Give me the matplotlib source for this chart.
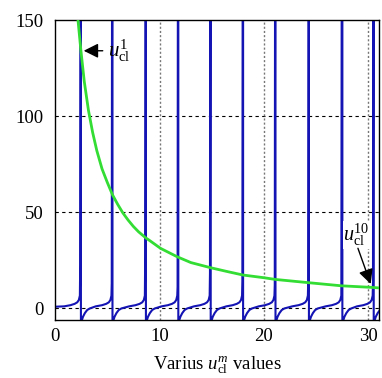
import matplotlib
matplotlib.use('Agg')
import matplotlib.pyplot as plt

plt.rcParams['font.family'] = ['Liberation Serif', 'DejaVu Serif']
plt.rcParams['mathtext.fontset'] = 'custom'
plt.rcParams['mathtext.it'] = 'Liberation Serif:italic'
plt.rcParams['mathtext.rm'] = 'Liberation Serif'

# blue branches: pole locations and how high the steep part climbs before each pole
poles = [2.48, 5.5, 8.7, 11.8, 14.9, 18.0, 21.1, 24.3, 27.5, 30.5]
spike_tops = [22, 13, 27, 11, 18, 14, 12, 14, 143, 14]

# branch shape just after a pole (offset after pole, value)
rise_dx = [0.0, 0.08, 0.2, 0.38, 0.6, 0.85]
rise_y = [-150, -6.5, -4.5, -2.6, -1.0, -0.2]

# branch shape approaching the next pole (offset before pole, value)
climb_dx = [1.6, 1.0, 0.6, 0.35, 0.2, 0.1]
climb_y = [0.9, 1.5, 2.2, 3.0, 4.2, 6.5]

start_x = [0.0, 0.6]
start_y = [0.7, 0.8]

# green curve
green_x = [2.2, 2.48, 2.8, 3.2, 3.6, 4.0, 4.5, 5.0, 5.5, 6.0, 6.5, 7.0, 7.5, 8.0,
           8.7, 9.05, 10.1, 11.7, 13.0, 14.9, 16.5, 18.0, 20.0, 21.1, 24.3, 27.4, 30.2, 31.0]
green_y = [150, 134, 118, 103, 91.5, 82, 72.5, 65.5, 59, 54, 49.5, 45.8, 42.5, 39.7,
           36.5, 35.2, 31.1, 26.7, 23.7, 21.0, 19.0, 17.2, 15.8, 14.9, 13.2, 11.6, 10.8, 10.5]

xticks = [0, 10, 20, 30]
yticks = [0, 50, 100, 150]

# assemble the blue curve branch by branch
bx, by = list(start_x), list(start_y)
prev = None
for p, top in zip(poles, spike_tops):
    if prev is not None:
        bx += [prev + d for d in rise_dx]
        by += rise_y
    bx += [p - d for d in climb_dx]
    by += climb_y
    bx += [p - 0.07, p]
    by += [top, 400]
    prev = p
bx += [prev + d for d in rise_dx]
by += rise_y

fig = plt.figure(figsize=(3.82, 3.78), dpi=100)
ax = fig.add_axes([0.144, 0.153, 0.848, 0.794])

for y in yticks[:-1]:
    ax.axhline(y, color='black', ls=(0, (3, 3)), lw=0.8, zorder=1)
for x in xticks[1:]:
    ax.axvline(x, color='#777777', ls=(0, (1.5, 1.5)), lw=1.0, zorder=1)

ax.plot(bx, by, color='#1414b4', lw=1.5, zorder=2)
ax.plot(green_x, green_y, color='#33dd33', lw=2.0, zorder=3)

ax.set_xlim(0, 31)
ax.set_ylim(-6.3, 150)
ax.set_xticks(xticks)
ax.set_yticks(yticks)
ax.tick_params(axis='both', length=0, labelsize=13.5)
ax.tick_params(axis='y', pad=8)
ax.tick_params(axis='x', pad=6)
for s in ax.spines.values():
    s.set_linewidth(1.0)

ax.set_xlabel(r'Varius $u_{\rm cl}^{m}$ values', fontsize=13.5, labelpad=6)

arrow = dict(arrowstyle='-|>', color='black', lw=1.0, mutation_scale=22)
ax.annotate(r'$u_{\rm cl}^{1}$', xy=(2.48, 134), xytext=(5.1, 134),
            fontsize=15, va='center', ha='left', arrowprops=arrow, zorder=5)
ax.text(27.6, 38, r'$u_{\rm cl}^{10}$', fontsize=14.5, va='center', ha='left', zorder=5,
        bbox=dict(facecolor='white', edgecolor='none', pad=0.5))
ax.annotate('', xy=(30.3, 11.2), xytext=(28.9, 32.5), arrowprops=arrow, zorder=5)

fig.savefig('out.png', dpi=100)
